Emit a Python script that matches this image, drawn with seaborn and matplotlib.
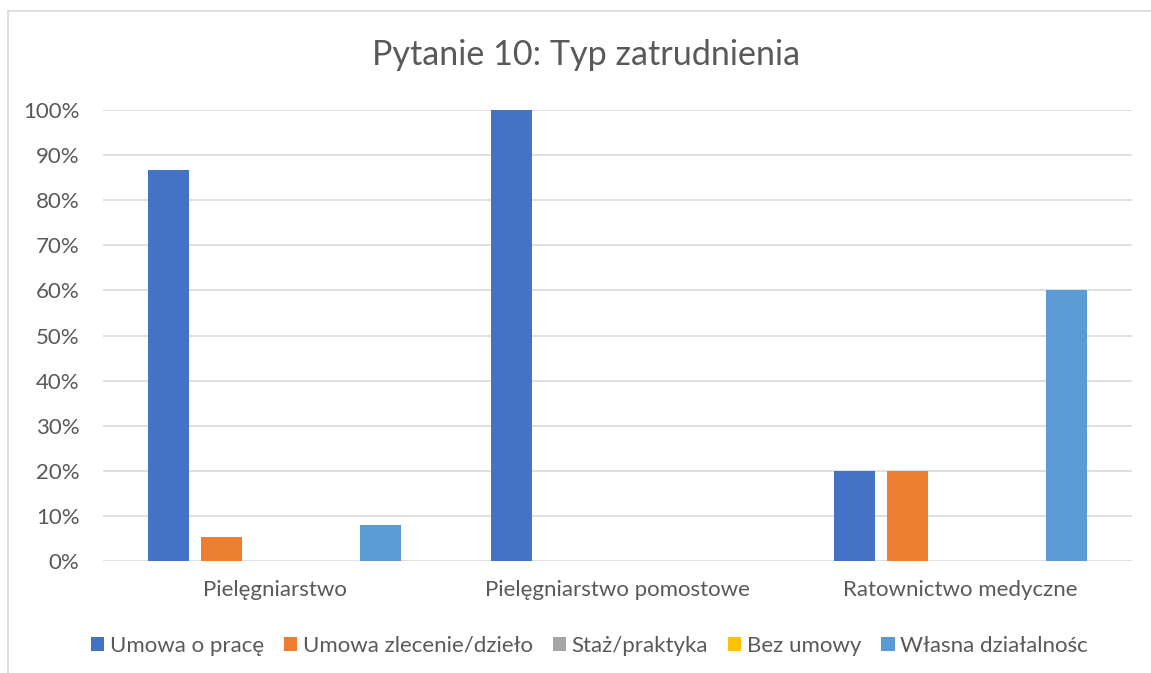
import pandas as pd
import seaborn as sns
import matplotlib.pyplot as plt
from matplotlib.patches import Patch
from matplotlib.lines import Line2D
from matplotlib.ticker import PercentFormatter

# Data (share of respondents)
kierunki = ['Pielęgniarstwo', 'Pielęgniarstwo pomostowe', 'Ratownictwo medyczne']
typy = ['Umowa o pracę', 'Umowa zlecenie/dzieło', 'Staż/praktyka', 'Bez umowy', 'Własna działalnośc']
umowa_o_prace = [0.868, 1.00, 0.20]
umowa_zlecenie = [0.053, 0.00, 0.20]
staz = [0.0, 0.0, 0.0]
bez_umowy = [0.0, 0.0, 0.0]
wlasna = [0.079, 0.00, 0.60]
kolory = ['#4472C4', '#ED7D31', '#A5A5A5', '#FFC000', '#5B9BD5']

df = pd.DataFrame({
    'Kierunek': kierunki * 5,
    'Typ': [t for t in typy for _ in kierunki],
    'Udzial': umowa_o_prace + umowa_zlecenie + staz + bez_umowy + wlasna,
})

sns.set_theme(style='white')
plt.rcParams['font.family'] = ['Lato', 'DejaVu Sans']
text_color = '#595959'
grid_color = '#D9D9D9'

fig = plt.figure(figsize=(11.51, 6.73), dpi=100)
ax = fig.add_axes([103 / 1151, 1 - 561 / 673, (1132 - 103) / 1151, (561 - 110) / 673])

sns.barplot(data=df, x='Kierunek', y='Udzial', hue='Typ', order=kierunki, hue_order=typy,
            palette=kolory, saturation=1, width=0.77, gap=0.22, linewidth=0,
            legend=False, ax=ax)

ax.set_ylim(0, 1.0)
ax.set_xlim(-0.5, 2.5)
ax.set_yticks([i / 10 for i in range(11)])
ax.yaxis.set_major_formatter(PercentFormatter(1.0, decimals=0))
ax.yaxis.grid(True, color=grid_color, linewidth=1.2)
ax.set_axisbelow(True)
for s in ax.spines.values():
    s.set_visible(False)
ax.set_xlabel('')
ax.set_ylabel('')
ax.tick_params(axis='y', length=0, pad=17, labelsize=16, labelcolor=text_color)
ax.tick_params(axis='x', length=0, pad=14, labelsize=16, labelcolor=text_color)

fig.suptitle('Pytanie 10: Typ zatrudnienia', x=0.509, y=1 - 55 / 673, va='center',
             fontsize=24.6, color=text_color)

handles = [Patch(facecolor=c, edgecolor='none', label=t) for c, t in zip(kolory, typy)]
fig.legend(handles=handles, loc='center', bbox_to_anchor=(0.512, 1 - 646 / 673), ncol=5,
           frameon=False, fontsize=16, labelcolor=text_color, handlelength=0.6,
           handleheight=0.6, handletextpad=0.25, columnspacing=0.9)

# chart border (Excel chart area outline)
fig.add_artist(Line2D([8 / 1151, 8 / 1151], [0, 1 - 11 / 673], color=grid_color, linewidth=1.2))
fig.add_artist(Line2D([8 / 1151, 1], [1 - 11 / 673, 1 - 11 / 673], color=grid_color, linewidth=1.2))

fig.savefig('out.png', dpi=100)
